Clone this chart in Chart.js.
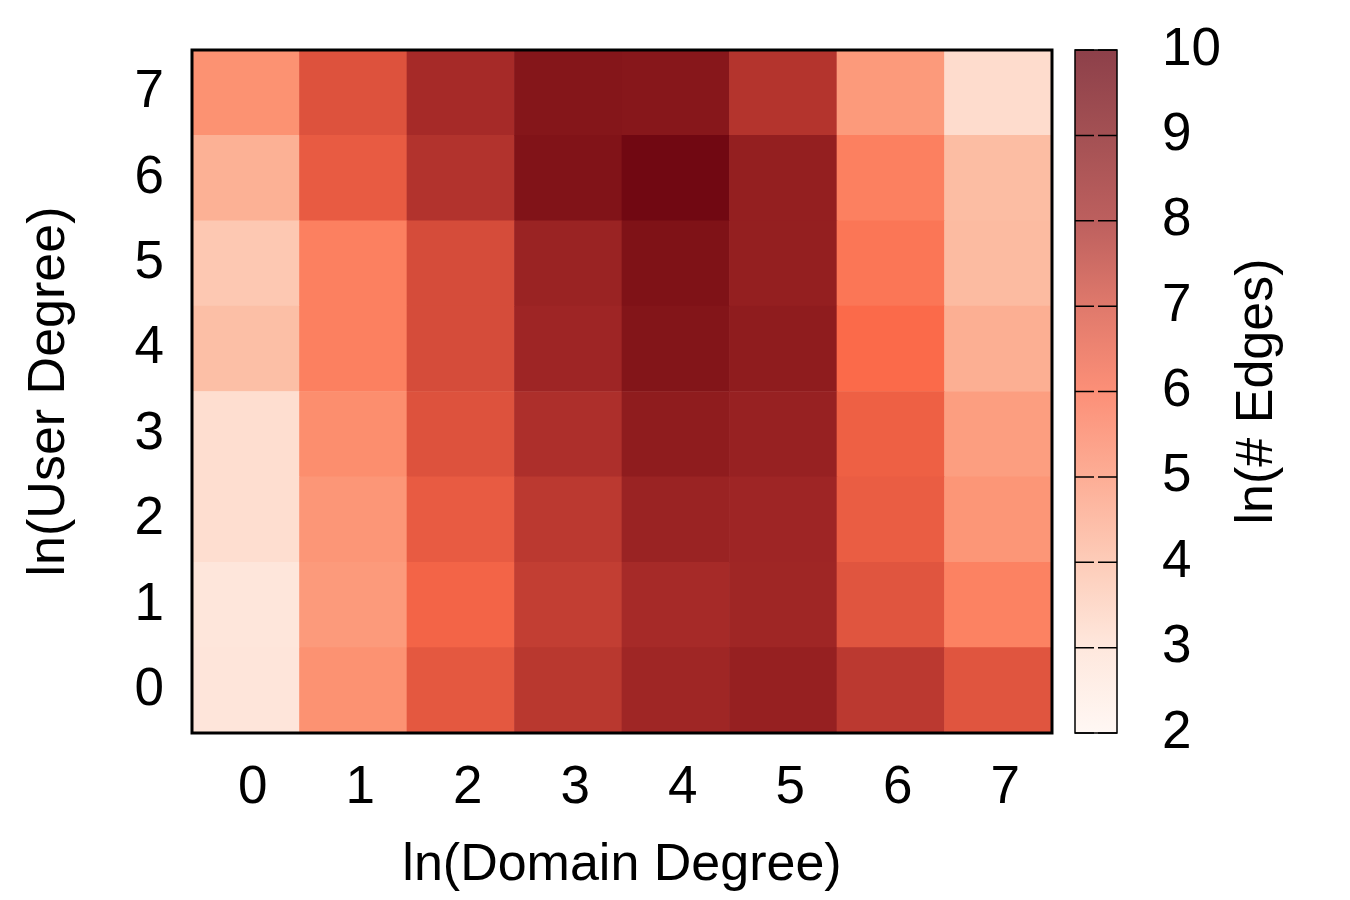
<!DOCTYPE html>
<html lang="en">
<head>
    <meta charset="UTF-8">
    <title>ln(# Edges) heatmap</title>
    <style>
      * {
    margin: 0;
    padding: 0;
    box-sizing: border-box;
}

body {
    background: #fff;
    width: 1350px;
    height: 900px;
    position: relative;
    overflow: hidden;
}

#heatmap {
    position: absolute;
    left: 0;
    top: 0;
}

/* colour bar sits to the right of the heatmap */
#colorbar {
    position: absolute;
    left: 1062px;
    top: 0;
}
    </style>
</head>
<body>
    <canvas id="heatmap" width="1062" height="900"></canvas>
    <canvas id="colorbar" width="288" height="900"></canvas>

<script src="https://cdn.jsdelivr.net/npm/chart.js"></script>
    <script>
        // axis categories
        const domainDegree = ['0', '1', '2', '3', '4', '5', '6', '7'];
        const userDegree = [0, 1, 2, 3, 4, 5, 6, 7];

        // ln(# edges), one row per user degree, columns = domain degree 0..7
        const edgesUser0 = [2.75, 5.0, 6.6, 7.6, 8.2, 8.5, 7.55, 6.7];
        const edgesUser1 = [2.7, 4.8, 6.2, 7.4, 8.0, 8.2, 6.7, 5.4];
        const edgesUser2 = [3.05, 4.9, 6.5, 7.55, 8.35, 8.25, 6.45, 4.9];
        const edgesUser3 = [3.05, 5.1, 6.8, 7.85, 8.7, 8.45, 6.35, 4.7];
        const edgesUser4 = [3.9, 5.45, 7.0, 8.25, 9.05, 8.7, 6.0, 4.3];
        const edgesUser5 = [3.65, 5.45, 7.0, 8.35, 9.2, 8.55, 5.7, 4.0];
        const edgesUser6 = [4.25, 6.5, 7.75, 9.15, 9.65, 8.55, 5.45, 3.95];
        const edgesUser7 = [5.0, 6.8, 8.0, 9.0, 8.95, 7.7, 4.8, 3.1];
        const edgeRows = [edgesUser0, edgesUser1, edgesUser2, edgesUser3,
                          edgesUser4, edgesUser5, edgesUser6, edgesUser7];

        // colour bar ticks
        const cbarTicks = [2, 3, 4, 5, 6, 7, 8, 9, 10];

        // colour map stops (value -> colour)
        const cmapValues = [2, 3, 4, 5, 6, 7, 8, 9, 10];
        const cmapColors = ['#fff5f0', '#fee0d2', '#fcbba1', '#fc9272', '#fb6a4a',
                            '#d54c3a', '#a62a28', '#85161a', '#67000d'];

        const FONT = "'Liberation Sans', Arial, Helvetica, sans-serif";
        const TICK_SIZE = 53;
        const TITLE_SIZE = 52;

        function hexToRgb(h) {
            return [parseInt(h.substr(1, 2), 16), parseInt(h.substr(3, 2), 16), parseInt(h.substr(5, 2), 16)];
        }

        function colorFor(v, alpha) {
            if (alpha === undefined) alpha = 1;
            let i = 0;
            while (i < cmapValues.length - 2 && v > cmapValues[i + 1]) i++;
            const t = Math.min(1, Math.max(0, (v - cmapValues[i]) / (cmapValues[i + 1] - cmapValues[i])));
            const a = hexToRgb(cmapColors[i]);
            const b = hexToRgb(cmapColors[i + 1]);
            const c = a.map((x, k) => Math.round(x + (b[k] - x) * t));
            return 'rgba(' + c[0] + ',' + c[1] + ',' + c[2] + ',' + alpha + ')';
        }

        // black frame round the plot area
        function framePlugin(width) {
            return {
                id: 'frame',
                afterDraw(chart) {
                    const a = chart.chartArea;
                    const ctx = chart.ctx;
                    ctx.save();
                    ctx.strokeStyle = '#000';
                    ctx.lineWidth = width;
                    ctx.strokeRect(a.left, a.top, a.right - a.left, a.bottom - a.top);
                    ctx.restore();
                }
            };
        }

        // fixed axis size, and no extra room for labels hanging past the ends
        function fixSize(prop, size) {
            return function (scale) {
                scale[prop] = size;
                scale.paddingTop = 0;
                scale.paddingBottom = 0;
                scale.paddingLeft = 0;
                scale.paddingRight = 0;
            };
        }

        // one floating-bar dataset per user degree row
        const datasets = userDegree.map((u, r) => ({
            label: 'ln(User Degree) = ' + u,
            data: edgeRows[r].map(() => [u - 0.5, u + 0.5]),
            backgroundColor: edgeRows[r].map(v => colorFor(v)),
            borderWidth: 0,
            barPercentage: 1,
            categoryPercentage: 1
        }));

        new Chart(document.getElementById('heatmap'), {
            type: 'bar',
            data: { labels: domainDegree, datasets: datasets },
            options: {
                responsive: false,
                animation: false,
                events: [],
                layout: { padding: { left: 0, top: 50, right: 10, bottom: 0 } },
                plugins: { legend: { display: false }, tooltip: { enabled: false } },
                scales: {
                    x: {
                        stacked: true,
                        grid: { display: false },
                        border: { display: false },
                        ticks: { color: '#000', font: { family: FONT, size: TICK_SIZE }, padding: 16,
                                 labelOffset: 7, maxRotation: 0 },
                        title: { display: true, text: 'ln(Domain Degree)', color: '#000',
                                 font: { family: FONT, size: TITLE_SIZE }, padding: { top: 0, bottom: 3 } },
                        afterFit: fixSize('height', 167)
                    },
                    y: {
                        min: -0.5,
                        max: 7.5,
                        grid: { display: false },
                        border: { display: false },
                        afterBuildTicks(scale) { scale.ticks = userDegree.map(v => ({ value: v })); },
                        ticks: { color: '#000', font: { family: FONT, size: TICK_SIZE }, padding: 20 },
                        title: { display: true, text: 'ln(User Degree)', color: '#000',
                                 font: { family: FONT, size: TITLE_SIZE }, padding: { top: 18, bottom: 0 } },
                        afterFit: fixSize('width', 192)
                    }
                }
            },
            plugins: [framePlugin(3)]
        });

        // colour bar title, reads bottom to top
        const cbarTitle = 'ln(# Edges)';
        const cbarTitlePlugin = {
            id: 'cbarTitle',
            afterDraw(chart) {
                const a = chart.chartArea;
                const ctx = chart.ctx;
                ctx.save();
                ctx.translate(a.right + 141, (a.top + a.bottom) / 2);
                ctx.rotate(-Math.PI / 2);
                ctx.fillStyle = '#000';
                ctx.font = TITLE_SIZE + 'px ' + FONT;
                ctx.textAlign = 'center';
                ctx.textBaseline = 'middle';
                ctx.fillText(cbarTitle, 0, 0);
                ctx.restore();
            }
        };

        // tick marks across the colour bar with a small gap in the middle
        const cbarTickPlugin = {
            id: 'cbarTickMarks',
            afterDatasetsDraw(chart) {
                const a = chart.chartArea;
                const y = chart.scales.y;
                const mid = (a.left + a.right) / 2;
                const ctx = chart.ctx;
                ctx.save();
                ctx.strokeStyle = '#000';
                ctx.lineWidth = 1.5;
                cbarTicks.forEach(v => {
                    const py = y.getPixelForValue(v);
                    ctx.beginPath();
                    ctx.moveTo(a.left, py);
                    ctx.lineTo(mid - 2, py);
                    ctx.moveTo(mid + 2, py);
                    ctx.lineTo(a.right, py);
                    ctx.stroke();
                });
                ctx.restore();
            }
        };

        new Chart(document.getElementById('colorbar'), {
            type: 'bar',
            data: {
                labels: [''],
                datasets: [{
                    data: [[cmapValues[0], cmapValues[cmapValues.length - 1]]],
                    backgroundColor(ctx) {
                        const chart = ctx.chart;
                        if (!chart.chartArea) return 'transparent';
                        const y = chart.scales.y;
                        const lo = cmapValues[0], hi = cmapValues[cmapValues.length - 1];
                        const g = chart.ctx.createLinearGradient(0, y.getPixelForValue(lo), 0, y.getPixelForValue(hi));
                        cmapValues.forEach(v => g.addColorStop((v - lo) / (hi - lo), colorFor(v, 0.75)));
                        return g;
                    },
                    borderWidth: 0,
                    inflateAmount: 0,
                    barPercentage: 1,
                    categoryPercentage: 1
                }]
            },
            options: {
                responsive: false,
                animation: false,
                events: [],
                layout: { padding: { left: 13, top: 50, right: 0, bottom: 167 } },
                plugins: { legend: { display: false }, tooltip: { enabled: false } },
                scales: {
                    x: { display: false },
                    y: {
                        position: 'right',
                        min: 2,
                        max: 10,
                        afterBuildTicks(scale) { scale.ticks = cbarTicks.map(v => ({ value: v })); },
                        grid: { display: false },
                        border: { display: false },
                        ticks: { color: '#000', font: { family: FONT, size: TICK_SIZE }, padding: 37 },
                        afterFit: fixSize('width', 233)
                    }
                }
            },
            plugins: [cbarTickPlugin, framePlugin(1.5), cbarTitlePlugin]
        });
    </script>
</body>
</html>
